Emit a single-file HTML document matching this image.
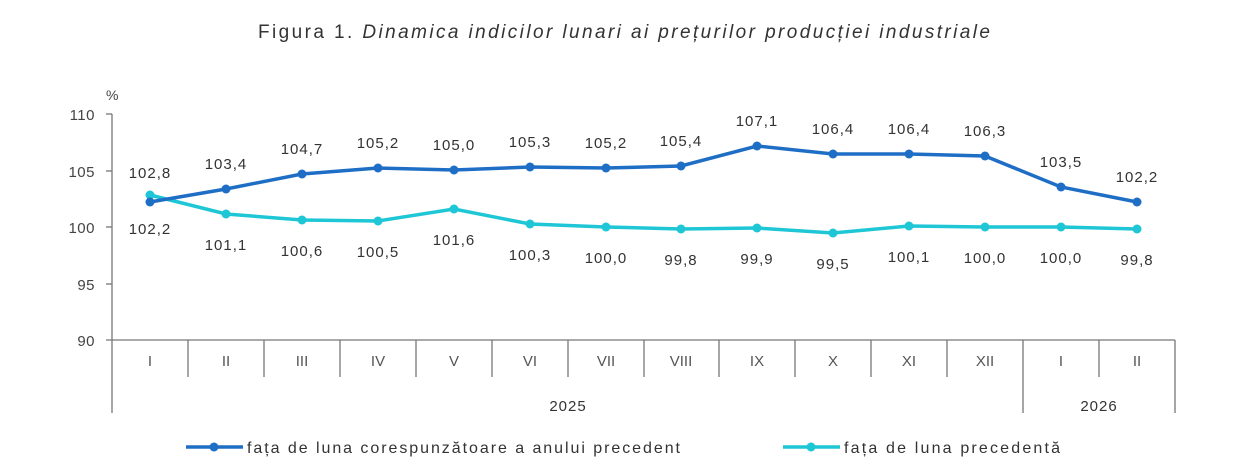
<!DOCTYPE html>
<html><head><meta charset="utf-8"><style>
body{margin:0;background:#fff;}
svg{display:block;font-family:"Liberation Sans",sans-serif;}
</style></head><body>
<svg width="1254" height="474" viewBox="0 0 1254 474" xmlns="http://www.w3.org/2000/svg">
<text x="258" y="38" font-size="19" fill="#333" textLength="732" lengthAdjust="spacing">Figura 1. <tspan font-style="italic">Dinamica indicilor lunari ai prețurilor producției industriale</tspan></text>
<text x="106" y="100" font-size="14" fill="#444">%</text>
<g font-size="15" fill="#444" text-anchor="end" letter-spacing="0.5">
<text x="95" y="120">110</text><text x="95" y="177">105</text><text x="95" y="233">100</text><text x="95" y="290">95</text><text x="95" y="346">90</text>
</g>
<g stroke="#777" stroke-width="1.3" fill="none">
<line x1="112" y1="114" x2="112" y2="413"/>
<line x1="106" y1="114" x2="112" y2="114"/><line x1="106" y1="171" x2="112" y2="171"/><line x1="106" y1="227" x2="112" y2="227"/><line x1="106" y1="284" x2="112" y2="284"/>
<line x1="106" y1="340" x2="1175" y2="340"/>
<line x1="188" y1="340" x2="188" y2="377"/><line x1="264" y1="340" x2="264" y2="377"/><line x1="340" y1="340" x2="340" y2="377"/><line x1="416" y1="340" x2="416" y2="377"/><line x1="492" y1="340" x2="492" y2="377"/><line x1="568" y1="340" x2="568" y2="377"/><line x1="644" y1="340" x2="644" y2="377"/><line x1="719" y1="340" x2="719" y2="377"/><line x1="795" y1="340" x2="795" y2="377"/><line x1="871" y1="340" x2="871" y2="377"/><line x1="947" y1="340" x2="947" y2="377"/><line x1="1099" y1="340" x2="1099" y2="377"/>
<line x1="1023" y1="340" x2="1023" y2="413"/><line x1="1175" y1="340" x2="1175" y2="413"/>
</g>
<g font-size="15" fill="#555" text-anchor="middle">
<text x="150" y="366">I</text><text x="226" y="366">II</text><text x="302" y="366">III</text><text x="378" y="366">IV</text><text x="454" y="366">V</text><text x="530" y="366">VI</text><text x="606" y="366">VII</text><text x="681" y="366">VIII</text><text x="757" y="366">IX</text><text x="833" y="366">X</text><text x="909" y="366">XI</text><text x="985" y="366">XII</text><text x="1061" y="366">I</text><text x="1137" y="366">II</text>
<text x="568" y="411" fill="#333" letter-spacing="1">2025</text><text x="1099" y="411" fill="#333" letter-spacing="1">2026</text>
</g>
<polyline fill="none" stroke="#1ec6d6" stroke-width="3.5" points="150,195 226,214 302,220 378,221 454,209 530,224 606,227 681,229 757,228 833,233 909,226 985,227 1061,227 1137,229"/>
<g fill="#1ec6d6"><circle cx="150" cy="195" r="4.5"/><circle cx="226" cy="214" r="4.5"/><circle cx="302" cy="220" r="4.5"/><circle cx="378" cy="221" r="4.5"/><circle cx="454" cy="209" r="4.5"/><circle cx="530" cy="224" r="4.5"/><circle cx="606" cy="227" r="4.5"/><circle cx="681" cy="229" r="4.5"/><circle cx="757" cy="228" r="4.5"/><circle cx="833" cy="233" r="4.5"/><circle cx="909" cy="226" r="4.5"/><circle cx="985" cy="227" r="4.5"/><circle cx="1061" cy="227" r="4.5"/><circle cx="1137" cy="229" r="4.5"/></g>
<polyline fill="none" stroke="#1f6ec6" stroke-width="3.5" points="150,202 226,189 302,174 378,168 454,170 530,167 606,168 681,166 757,146 833,154 909,154 985,156 1061,187 1137,202"/>
<g fill="#1f6ec6"><circle cx="150" cy="202" r="4.5"/><circle cx="226" cy="189" r="4.5"/><circle cx="302" cy="174" r="4.5"/><circle cx="378" cy="168" r="4.5"/><circle cx="454" cy="170" r="4.5"/><circle cx="530" cy="167" r="4.5"/><circle cx="606" cy="168" r="4.5"/><circle cx="681" cy="166" r="4.5"/><circle cx="757" cy="146" r="4.5"/><circle cx="833" cy="154" r="4.5"/><circle cx="909" cy="154" r="4.5"/><circle cx="985" cy="156" r="4.5"/><circle cx="1061" cy="187" r="4.5"/><circle cx="1137" cy="202" r="4.5"/></g>
<g font-size="15" fill="#333" text-anchor="middle" letter-spacing="1">
<text x="150" y="178">102,8</text><text x="226" y="169">103,4</text><text x="302" y="154">104,7</text><text x="378" y="148">105,2</text><text x="454" y="150">105,0</text><text x="530" y="147">105,3</text><text x="606" y="148">105,2</text><text x="681" y="146">105,4</text><text x="757" y="126">107,1</text><text x="833" y="134">106,4</text><text x="909" y="134">106,4</text><text x="985" y="136">106,3</text><text x="1061" y="167">103,5</text><text x="1137" y="182">102,2</text>
<text x="150" y="234">102,2</text><text x="226" y="250">101,1</text><text x="302" y="256">100,6</text><text x="378" y="257">100,5</text><text x="454" y="245">101,6</text><text x="530" y="260">100,3</text><text x="606" y="263">100,0</text><text x="681" y="265">99,8</text><text x="757" y="264">99,9</text><text x="833" y="269">99,5</text><text x="909" y="262">100,1</text><text x="985" y="263">100,0</text><text x="1061" y="263">100,0</text><text x="1137" y="265">99,8</text>
</g>
<line x1="186" y1="447" x2="243" y2="447" stroke="#1f6ec6" stroke-width="3.5"/><circle cx="214" cy="447" r="4.5" fill="#1f6ec6"/>
<text x="247" y="453" font-size="16" fill="#333" textLength="433" lengthAdjust="spacing">fața de luna corespunzătoare a anului precedent</text>
<line x1="783" y1="447" x2="840" y2="447" stroke="#1ec6d6" stroke-width="3.5"/><circle cx="811" cy="447" r="4.5" fill="#1ec6d6"/>
<text x="844" y="453" font-size="16" fill="#333" textLength="216" lengthAdjust="spacing">fața de luna precedentă</text>
</svg>
</body></html>
